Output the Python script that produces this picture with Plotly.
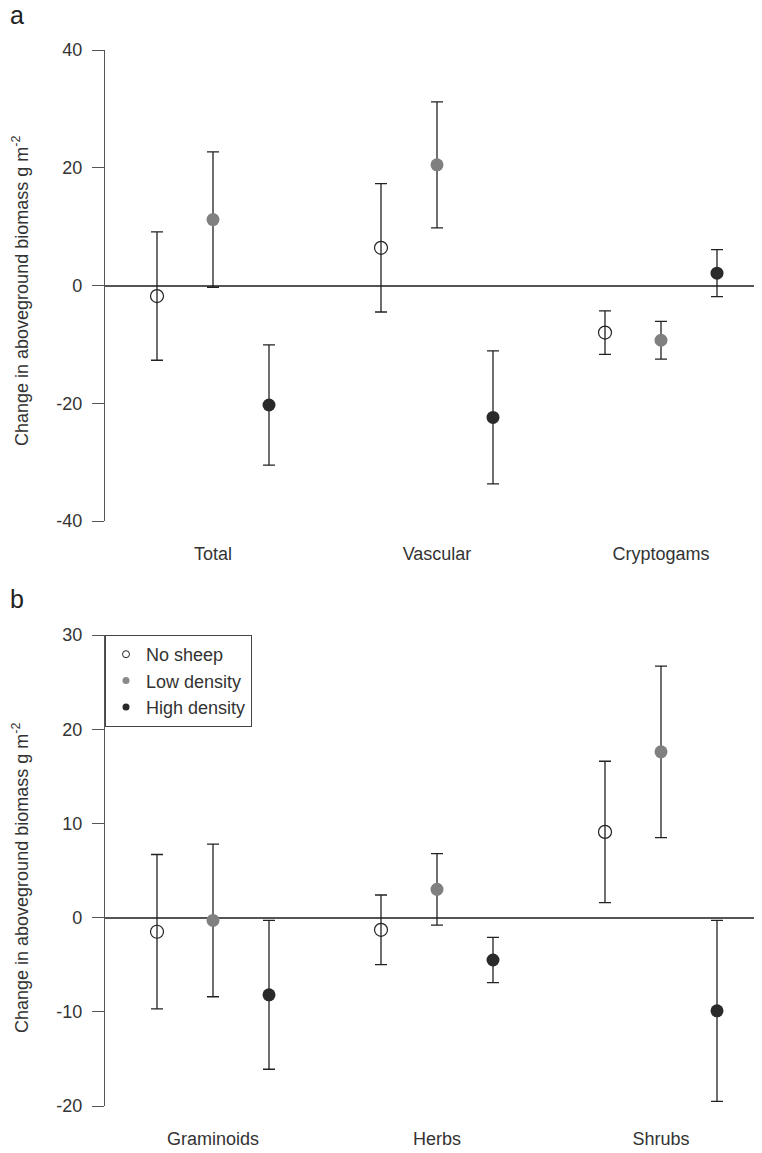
import plotly.graph_objects as go

# ---------------- data ----------------
groups_a = ["Total", "Vascular", "Cryptogams"]
groups_b = ["Graminoids", "Herbs", "Shrubs"]
treatments = ["No sheep", "Low density", "High density"]

# panel a: means and standard errors (Total, Vascular, Cryptogams)
a_none_mean = [-1.8, 6.4, -8.0]
a_none_err = [10.9, 10.9, 3.7]
a_low_mean = [11.2, 20.5, -9.3]
a_low_err = [11.5, 10.7, 3.2]
a_high_mean = [-20.3, -22.4, 2.1]
a_high_err = [10.2, 11.3, 4.0]

# panel b: means and standard errors (Graminoids, Herbs, Shrubs)
b_none_mean = [-1.5, -1.3, 9.1]
b_none_err = [8.2, 3.7, 7.5]
b_low_mean = [-0.3, 3.0, 17.6]
b_low_err = [8.1, 3.8, 9.1]
b_high_mean = [-8.2, -4.5, -9.9]
b_high_err = [7.9, 2.4, 9.6]

a_ticks = [-40, -20, 0, 20, 40]
b_ticks = [-20, -10, 0, 10, 20, 30]

# ---------------- geometry / styling ----------------
OFF = 8                     # page body margin of the browser
W, H = 762 - OFF, 1153 - OFF

FONT = "Liberation Sans, Arial, sans-serif"
TXT = "#333333"
AX = "#555555"
ERR = "#222222"
styles = {
    "No sheep": dict(symbol="circle-open", color=ERR, size=13, line=dict(color=ERR, width=1.2)),
    "Low density": dict(symbol="circle", color="#808080", size=13, line=dict(width=0)),
    "High density": dict(symbol="circle", color="#2a2a2a", size=13, line=dict(width=0)),
}
legend_styles = {
    "No sheep": dict(symbol="circle-open", color=ERR, size=7, line=dict(color=ERR, width=1)),
    "Low density": dict(symbol="circle", color="#8a8a8a", size=7, line=dict(width=0)),
    "High density": dict(symbol="circle", color="#2a2a2a", size=7, line=dict(width=0)),
}


def px_x(p):
    return (p - OFF) / W


def px_y(p):
    return 1 - (p - OFF) / H


def positions(t):
    # group g at 4*g + 1, treatments offset 0,1,2
    return [4 * g + 1 + t for g in range(3)]


fig = go.Figure()

panel_a = [(a_none_mean, a_none_err), (a_low_mean, a_low_err), (a_high_mean, a_high_err)]
panel_b = [(b_none_mean, b_none_err), (b_low_mean, b_low_err), (b_high_mean, b_high_err)]

for (panel, xa, ya) in [(panel_a, "x", "y"), (panel_b, "x2", "y2")]:
    for t, name in enumerate(treatments):
        m, e = panel[t]
        fig.add_trace(go.Scatter(
            x=positions(t), y=m, mode="markers", name=name, showlegend=False,
            xaxis=xa, yaxis=ya,
            marker=styles[name],
            error_y=dict(type="data", array=e, visible=True, color=ERR, thickness=1.3, width=6),
            cliponaxis=False,
        ))

# legend entries (small symbols like the reference)
for name in treatments:
    fig.add_trace(go.Scatter(
        x=[None], y=[None], mode="markers", name=name, showlegend=True,
        xaxis="x2", yaxis="y2", marker=legend_styles[name],
    ))

x_dom = [px_x(105), 1.0]
x_rng = [1 - 52 / 56, 1 + (762 - 157) / 56]

common_x = dict(
    domain=x_dom, range=x_rng, showline=False, showgrid=False, zeroline=False,
    ticks="", tickvals=[2, 6, 10], tickfont=dict(family=FONT, size=18, color=TXT),
    ticklabelstandoff=20, automargin=False, fixedrange=True,
)
common_y = dict(
    showline=True, linecolor=AX, linewidth=1.3, showgrid=False,
    zeroline=True, zerolinecolor=AX, zerolinewidth=1.6,
    ticks="outside", ticklen=12, tickcolor=AX, tickwidth=1.3,
    tickfont=dict(family=FONT, size=18, color=TXT), ticklabelstandoff=6,
    automargin=False, fixedrange=True,
)

fig.update_layout(
    width=W, height=H,
    margin=dict(l=0, r=0, t=0, b=0, autoexpand=False),
    paper_bgcolor="white", plot_bgcolor="white",
    font=dict(family=FONT, color=TXT),
    xaxis=dict(common_x, ticktext=groups_a, anchor="y"),
    yaxis=dict(common_y, domain=[px_y(521), px_y(50)], range=[-40, 40],
               tickvals=a_ticks, ticktext=[str(v) for v in a_ticks], anchor="x"),
    xaxis2=dict(common_x, ticktext=groups_b, anchor="y2"),
    yaxis2=dict(common_y, domain=[px_y(1106), px_y(635)], range=[-20, 30],
                tickvals=b_ticks, ticktext=[str(v) for v in b_ticks], anchor="x2"),
    legend=dict(
        x=px_x(105), y=px_y(635), xanchor="left", yanchor="top",
        bordercolor="#444444", borderwidth=1, bgcolor="white",
        font=dict(family=FONT, size=18, color=TXT),
        itemwidth=30, tracegroupgap=0,
    ),
    showlegend=True,
)

ytitle = "Change in aboveground biomass g m<sup>-2</sup>"
for yc in (291, 878):
    fig.add_annotation(x=px_x(20), y=px_y(yc), xref="paper", yref="paper", text=ytitle,
                       textangle=-90, showarrow=False, xanchor="center", yanchor="middle",
                       font=dict(family=FONT, size=18, color=TXT))
fig.add_annotation(x=px_x(16.5), y=px_y(15.5), xref="paper", yref="paper", text="a",
                   showarrow=False, xanchor="center", yanchor="middle",
                   font=dict(family=FONT, size=25, color="#222222"))
fig.add_annotation(x=px_x(17), y=px_y(599), xref="paper", yref="paper", text="b",
                   showarrow=False, xanchor="center", yanchor="middle",
                   font=dict(family=FONT, size=25, color="#222222"))

fig.write_html("out.html")
